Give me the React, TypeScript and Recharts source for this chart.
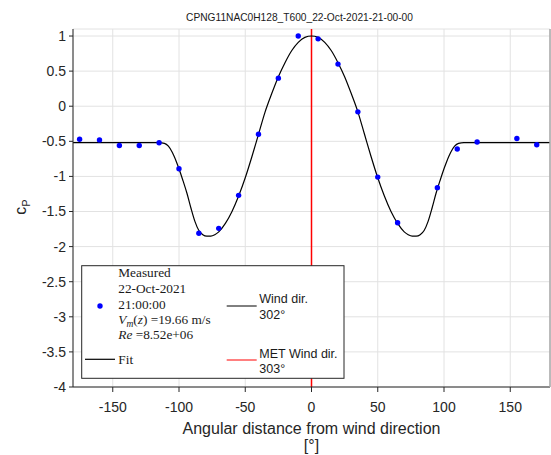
import React from "react";
import {
  ComposedChart,
  XAxis,
  YAxis,
  CartesianGrid,
  Line,
  Scatter,
  ReferenceLine,
} from "recharts";

// Measured pressure coefficients
const measuredAngles = [-175, -160, -145, -130, -115, -100, -85, -70, -55, -40, -25, -10, 5, 20, 35, 50, 65, 95, 110, 125, 155, 170];
const measuredCp = [-0.47, -0.48, -0.56, -0.56, -0.52, -0.89, -1.81, -1.74, -1.27, -0.4, 0.4, 1.0, 0.96, 0.6, -0.08, -1.01, -1.66, -1.16, -0.61, -0.51, -0.46, -0.55];

// Fit curve
const fitAngles = [-180, -115, -111, -108, -105, -102, -100, -97, -94, -91, -88, -85, -82, -79, -76, -73, -70, -65, -60, -55, -50, -45, -40, -35, -30, -25, -20, -15, -10, -5, 0, 5, 10, 15, 20, 25, 30, 35, 40, 45, 50, 55, 60, 65, 70, 73, 76, 79, 82, 85, 88, 91, 94, 97, 100, 102, 105, 108, 111, 115, 180];
const fitCp = [-0.52, -0.52, -0.53, -0.57, -0.66, -0.79, -0.89, -1.06, -1.24, -1.45, -1.64, -1.77, -1.83, -1.85, -1.85, -1.83, -1.79, -1.67, -1.5, -1.28, -1.02, -0.72, -0.4, -0.08, 0.18, 0.42, 0.62, 0.79, 0.91, 0.98, 1.0, 0.98, 0.91, 0.79, 0.62, 0.42, 0.18, -0.08, -0.4, -0.72, -1.02, -1.28, -1.5, -1.67, -1.79, -1.83, -1.85, -1.85, -1.83, -1.77, -1.64, -1.45, -1.24, -1.06, -0.89, -0.79, -0.66, -0.57, -0.53, -0.52, -0.52];

const xTicks = [-150, -100, -50, 0, 50, 100, 150];
const yTicks = [-4, -3.5, -3, -2.5, -2, -1.5, -1, -0.5, 0, 0.5, 1];
const windDir = 0;
const metWindDir = 0;

const titleText = "CPNG11NAC0H128_T600_22-Oct-2021-21-00-00";
const xLabel = "Angular distance from wind direction";

const measuredData = measuredAngles.map((x, i) => ({ x, y: measuredCp[i] }));
const fitData = fitAngles.map((x, i) => ({ x, y: fitCp[i] }));

const AX = "#262626";
const SANS = "'Liberation Sans', Arial, Helvetica, sans-serif";
const SERIF = "'Liberation Serif', 'Times New Roman', serif";

const Dot = (props: any) => {
  const { cx, cy } = props;
  if (cx == null || cy == null) return null;
  return <circle cx={cx} cy={cy} r={2.7} fill="#0000ff" />;
};

export default function App() {
  return (
    <div style={{ position: "absolute", left: 0, top: 0, width: 551, height: 455, background: "#fff" }}>
      <ComposedChart width={551} height={455} margin={{ top: 29, right: 0, bottom: 0, left: 0 }}>
        <CartesianGrid stroke="#e2e2e2" strokeWidth={1} />
        <XAxis
          dataKey="x"
          type="number"
          domain={[-180, 180]}
          ticks={xTicks}
          allowDataOverflow
          height={68}
          tickSize={5}
          tickMargin={10}
          axisLine={{ stroke: AX }}
          tickLine={{ stroke: AX }}
          tick={{ fill: AX, fontSize: 14, fontFamily: SANS }}
        />
        <XAxis
          xAxisId="top"
          orientation="top"
          dataKey="x"
          type="number"
          domain={[-180, 180]}
          ticks={xTicks}
          allowDataOverflow
          height={0}
          tickSize={5}
          axisLine={{ stroke: "#a8a8a8", strokeWidth: 2 }}
          tickLine={{ stroke: "#555" }}
          tickFormatter={() => ""}
        />
        <YAxis
          type="number"
          domain={[-4, 1.1]}
          ticks={yTicks}
          allowDataOverflow
          width={73}
          tickSize={4}
          tickMargin={3}
          axisLine={{ stroke: AX }}
          tickLine={{ stroke: AX }}
          tick={{ fill: AX, fontSize: 14, fontFamily: SANS }}
        />
        <YAxis
          yAxisId="r"
          orientation="right"
          type="number"
          domain={[-4, 1.1]}
          width={1}
          axisLine={{ stroke: "#a8a8a8", strokeWidth: 1.5 }}
          tickLine={false}
          tick={false}
        />
        <ReferenceLine x={windDir} stroke="#000" strokeWidth={1} />
        <ReferenceLine x={metWindDir} stroke="#ff0000" strokeWidth={1.5} />
        <Line
          data={fitData}
          dataKey="y"
          type="monotone"
          stroke="#000"
          strokeWidth={1.2}
          dot={false}
          isAnimationActive={false}
        />
        <Scatter data={measuredData} dataKey="y" fill="#0000ff" shape={Dot} isAnimationActive={false} />
      </ComposedChart>
      <svg
        width={551}
        height={455}
        style={{ position: "absolute", left: 0, top: 0, pointerEvents: "none" }}
      >
        <text x={299.5} y={20.7} textAnchor="middle" fontSize={10.2} fontFamily={SANS} fill="#1a1a1a">
          {titleText}
        </text>
        <text x={311.5} y={434} textAnchor="middle" fontSize={16} fontFamily={SANS} fill={AX}>
          {xLabel}
        </text>
        <text x={311.5} y={451} textAnchor="middle" fontSize={16} fontFamily={SANS} fill={AX}>
          [°]
        </text>
        <text transform="translate(25.5,207) rotate(-90)" textAnchor="middle" fontSize={16} fontFamily={SANS} fill={AX}>
          c<tspan fontSize={11} dy={4}>P</tspan>
        </text>

        {/* legend */}
        <rect x={81.7} y={265.7} width={262.3} height={112.6} fill="#fff" stroke={AX} strokeWidth={1} />
        <circle cx={100} cy={306} r={2.7} fill="#0000ff" />
        <g fontFamily={SERIF} fontSize={13.3} fill="#1a1a1a">
          <text x={118.3} y={277.3}>Measured</text>
          <text x={118.3} y={293}>22-Oct-2021</text>
          <text x={118.3} y={308.7}>21:00:00</text>
          <text x={118.3} y={324}>
            <tspan fontStyle="italic">V</tspan>
            <tspan fontStyle="italic" fontSize={9.5} dy={2.5}>m</tspan>
            <tspan dy={-2.5}>(</tspan>
            <tspan fontStyle="italic">z</tspan>
            <tspan>) =19.66 m/s</tspan>
          </text>
          <text x={118.3} y={339}>
            <tspan fontStyle="italic">Re</tspan>
            <tspan> =8.52e+06</tspan>
          </text>
          <text x={118.3} y={363.7}>Fit</text>
        </g>
        <line x1={85} x2={115} y1={359.3} y2={359.3} stroke="#000" strokeWidth={1.2} />
        <line x1={226.7} x2={256.7} y1={306} y2={306} stroke="#000" strokeWidth={1} />
        <line x1={226.7} x2={256.7} y1={360} y2={360} stroke="#ff0000" strokeWidth={1} />
        <g fontFamily={SANS} fontSize={12.5} fill="#1a1a1a">
          <text x={259.3} y={302.7}>Wind dir.</text>
          <text x={259.3} y={318.7}>302°</text>
          <text x={259.3} y={358.3}>MET Wind dir.</text>
          <text x={259.3} y={373.3}>303°</text>
        </g>
      </svg>
    </div>
  );
}
